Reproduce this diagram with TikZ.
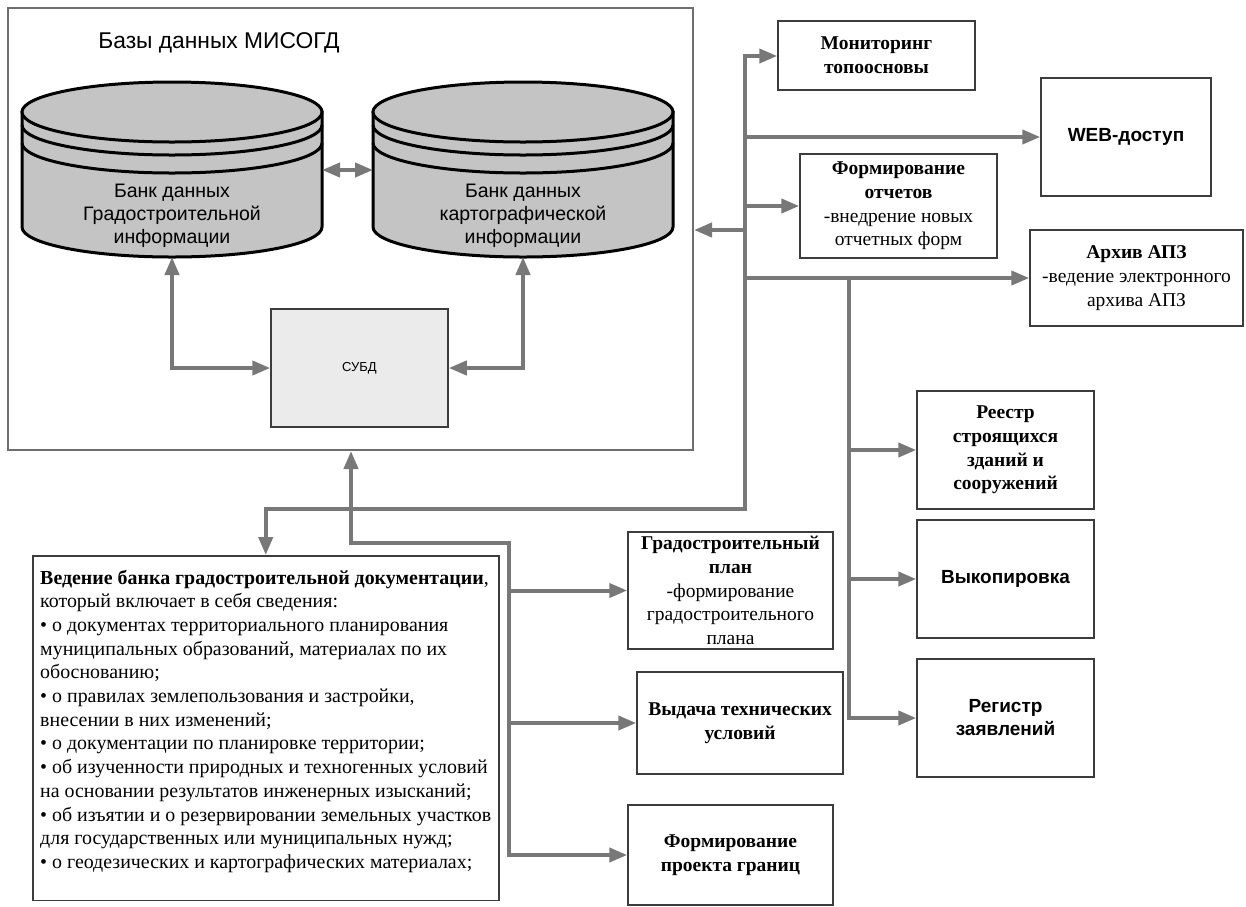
\documentclass[tikz,border=0pt]{standalone}
\usepackage{fontspec}
\setmainfont{Liberation Serif}
\setsansfont{Liberation Sans}
\usepackage{xcolor}
\usepackage{tikz}
\usetikzlibrary{arrows.meta}

\definecolor{linkgray}{HTML}{787878}
\definecolor{boxline}{HTML}{3C3C3C}
\definecolor{dbgray}{HTML}{C4C4C4}
\definecolor{subdfill}{HTML}{EBEBEB}
\definecolor{framegray}{HTML}{6E6E6E}

\begin{document}
\begin{tikzpicture}[x=1pt,y=-1pt,
	wire/.style={line width=4pt,draw=linkgray,line cap=rect},
	arr/.style={wire,-{Triangle[length=18pt,width=14pt]}},
	twoarr/.style={wire,{Triangle[length=18pt,width=14pt]}-{Triangle[length=18pt,width=14pt]}},
	box/.style={draw=boxline,line width=1.5pt,align=center,inner sep=2pt,font=\fontsize{19.5}{23.7}\selectfont},
	sbox/.style={box,font=\sffamily\bfseries\fontsize{19}{23}\selectfont},
	dbcyl/.style={draw=black,fill=dbgray,line width=3pt},
	dbtext/.style={align=center,font=\sffamily\fontsize{19.5}{23}\selectfont},
	dbtitle/.style={font=\sffamily\fontsize{22.8}{26}\selectfont},
	frame/.style={draw=framegray,line width=2pt},
	dbms/.style={draw=boxline,fill=subdfill,line width=1.5pt,font=\sffamily\fontsize{13}{15}\selectfont},
	ledgerbox/.style={draw=boxline,line width=1.5pt,align=left,minimum width=466pt,inner xsep=4pt,inner ysep=14pt,font=\fontsize{19.9}{23.7}\selectfont}]
	\useasboundingbox (0,0) rectangle (1246,906);

	\node[frame,minimum width=685pt,minimum height=442pt] (misogd) at (350.5,229) {};
	\node[dbtitle] (dbname) at (219,43) {Базы данных МИСОГД};

	\foreach \cx/\nm/\txt in {172/gradbank/{Банк данных\\Градостроительной\\информации},523/cartbank/{Банк данных\\картографической\\информации}}{
		\filldraw[dbcyl] (\cx-150,112) -- (\cx-150,227) arc[start angle=180,end angle=0,x radius=150,y radius=30] -- (\cx+150,112) -- cycle;
		\filldraw[dbcyl] (\cx,112) ellipse [x radius=150,y radius=30];
		\foreach \d in {13,31}{
			\draw[dbcyl,fill=none] (\cx-150,112+\d) arc[start angle=180,end angle=0,x radius=150,y radius=30];
		}
		\node[dbtext] (\nm) at (\cx,216) {\txt};
		\coordinate (\nm-bot) at (\cx,257);
		\coordinate (\nm-e) at (\cx+150,170);
		\coordinate (\nm-w) at (\cx-150,170);
	}

	\node[dbms,minimum width=177pt,minimum height=118pt] (subd) at (359.5,368) {СУБД};
	\draw[twoarr] (gradbank-e) -- (cartbank-w);
	\draw[twoarr] (subd.west) -| (gradbank-bot);
	\draw[twoarr] (subd.east) -| (cartbank-bot);

	\node[box,minimum width=197pt,minimum height=69pt] (mon) at (876.5,55.5) {\textbf{Мониторинг}\\\textbf{топоосновы}};
	\node[sbox,minimum width=170pt,minimum height=118pt] (web) at (1126,137) {WEB-доступ};
	\node[box,minimum width=197pt,minimum height=104pt] (rep) at (898.5,206) {\textbf{Формирование}\\\textbf{отчетов}\\-внедрение новых\\отчетных форм};
	\node[box,minimum width=213pt,minimum height=96pt] (arch) at (1136.5,278) {\textbf{Архив АПЗ}\\-ведение электронного\\архива АПЗ};
	\node[box,minimum width=177pt,minimum height=118pt] (reestr) at (1005.5,450) {\textbf{Реестр}\\\textbf{строящихся}\\\textbf{зданий и}\\\textbf{сооружений}};
	\node[sbox,minimum width=177pt,minimum height=118pt] (vykop) at (1005.5,579) {Выкопировка};
	\node[sbox,minimum width=177pt,minimum height=118pt] (regist) at (1005.5,718) {Регистр\\заявлений};
	\node[box,minimum width=205pt,minimum height=117pt] (gplan) at (730.5,590.5) {\textbf{Градостроительный}\\\textbf{план}\\-формирование\\градостроительного\\плана};
	\node[box,minimum width=206pt,minimum height=102pt] (vydacha) at (740,723) {\textbf{Выдача технических}\\\textbf{условий}};
	\node[box,minimum width=205pt,minimum height=100pt] (proekt) at (730.5,855) {\textbf{Формирование}\\\textbf{проекта границ}};

	\node[ledgerbox,anchor=north west] (ledger) at (32,555) {\textbf{Ведение банка градостроительной документации},\\
		который включает в себя сведения:\\
		• о документах территориального планирования\\
		муниципальных образований, материалах по их\\
		обоснованию;\\
		• о правилах землепользования и застройки,\\
		внесении в них изменений;\\
		• о документации по планировке территории;\\
		• об изученности природных и техногенных условий\\
		на основании результатов инженерных изысканий;\\
		• об изъятии и о резервировании земельных участков\\
		для государственных или муниципальных нужд;\\
		• о геодезических и картографических материалах;\rule[-18pt]{0pt}{0pt}};

	\coordinate (bus-top) at (745,56);
	\coordinate (bus-in) at (745,230);
	\coordinate (bus-bot) at (745,509);
	\coordinate (junc) at (351,509);
	\coordinate (feed) at (509,543);
	\coordinate (bus2-top) at (849,278);

	\draw[wire] (bus-top) -- (bus-bot) -- (junc);
	\draw[arr] (bus-top) -- (bus-top -| mon.west);
	\draw[arr] (bus-top |- web) -- (web.west);
	\draw[arr] (bus-top |- rep) -- (rep.west);
	\draw[arr] (bus-in) -- (bus-in -| misogd.east);
	\draw[arr] (bus-top |- arch) -- (arch.west);

	\draw[wire] (bus2-top) -- (bus2-top |- regist);
	\draw[arr] (bus2-top |- reestr) -- (reestr.west);
	\draw[arr] (bus2-top |- vykop) -- (vykop.west);
	\draw[arr] (bus2-top |- regist) -- (regist.west);

	\draw[arr] (junc) -| (ledger.north);
	\draw[arr] (junc |- feed) -- (junc |- misogd.south);
	\draw[wire] (junc) |- (feed);
	\draw[arr] (feed) |- (proekt.west);
	\draw[arr] (feed |- gplan) -- (gplan.west);
	\draw[arr] (feed |- vydacha) -- (vydacha.west);
\end{tikzpicture}
\end{document}
